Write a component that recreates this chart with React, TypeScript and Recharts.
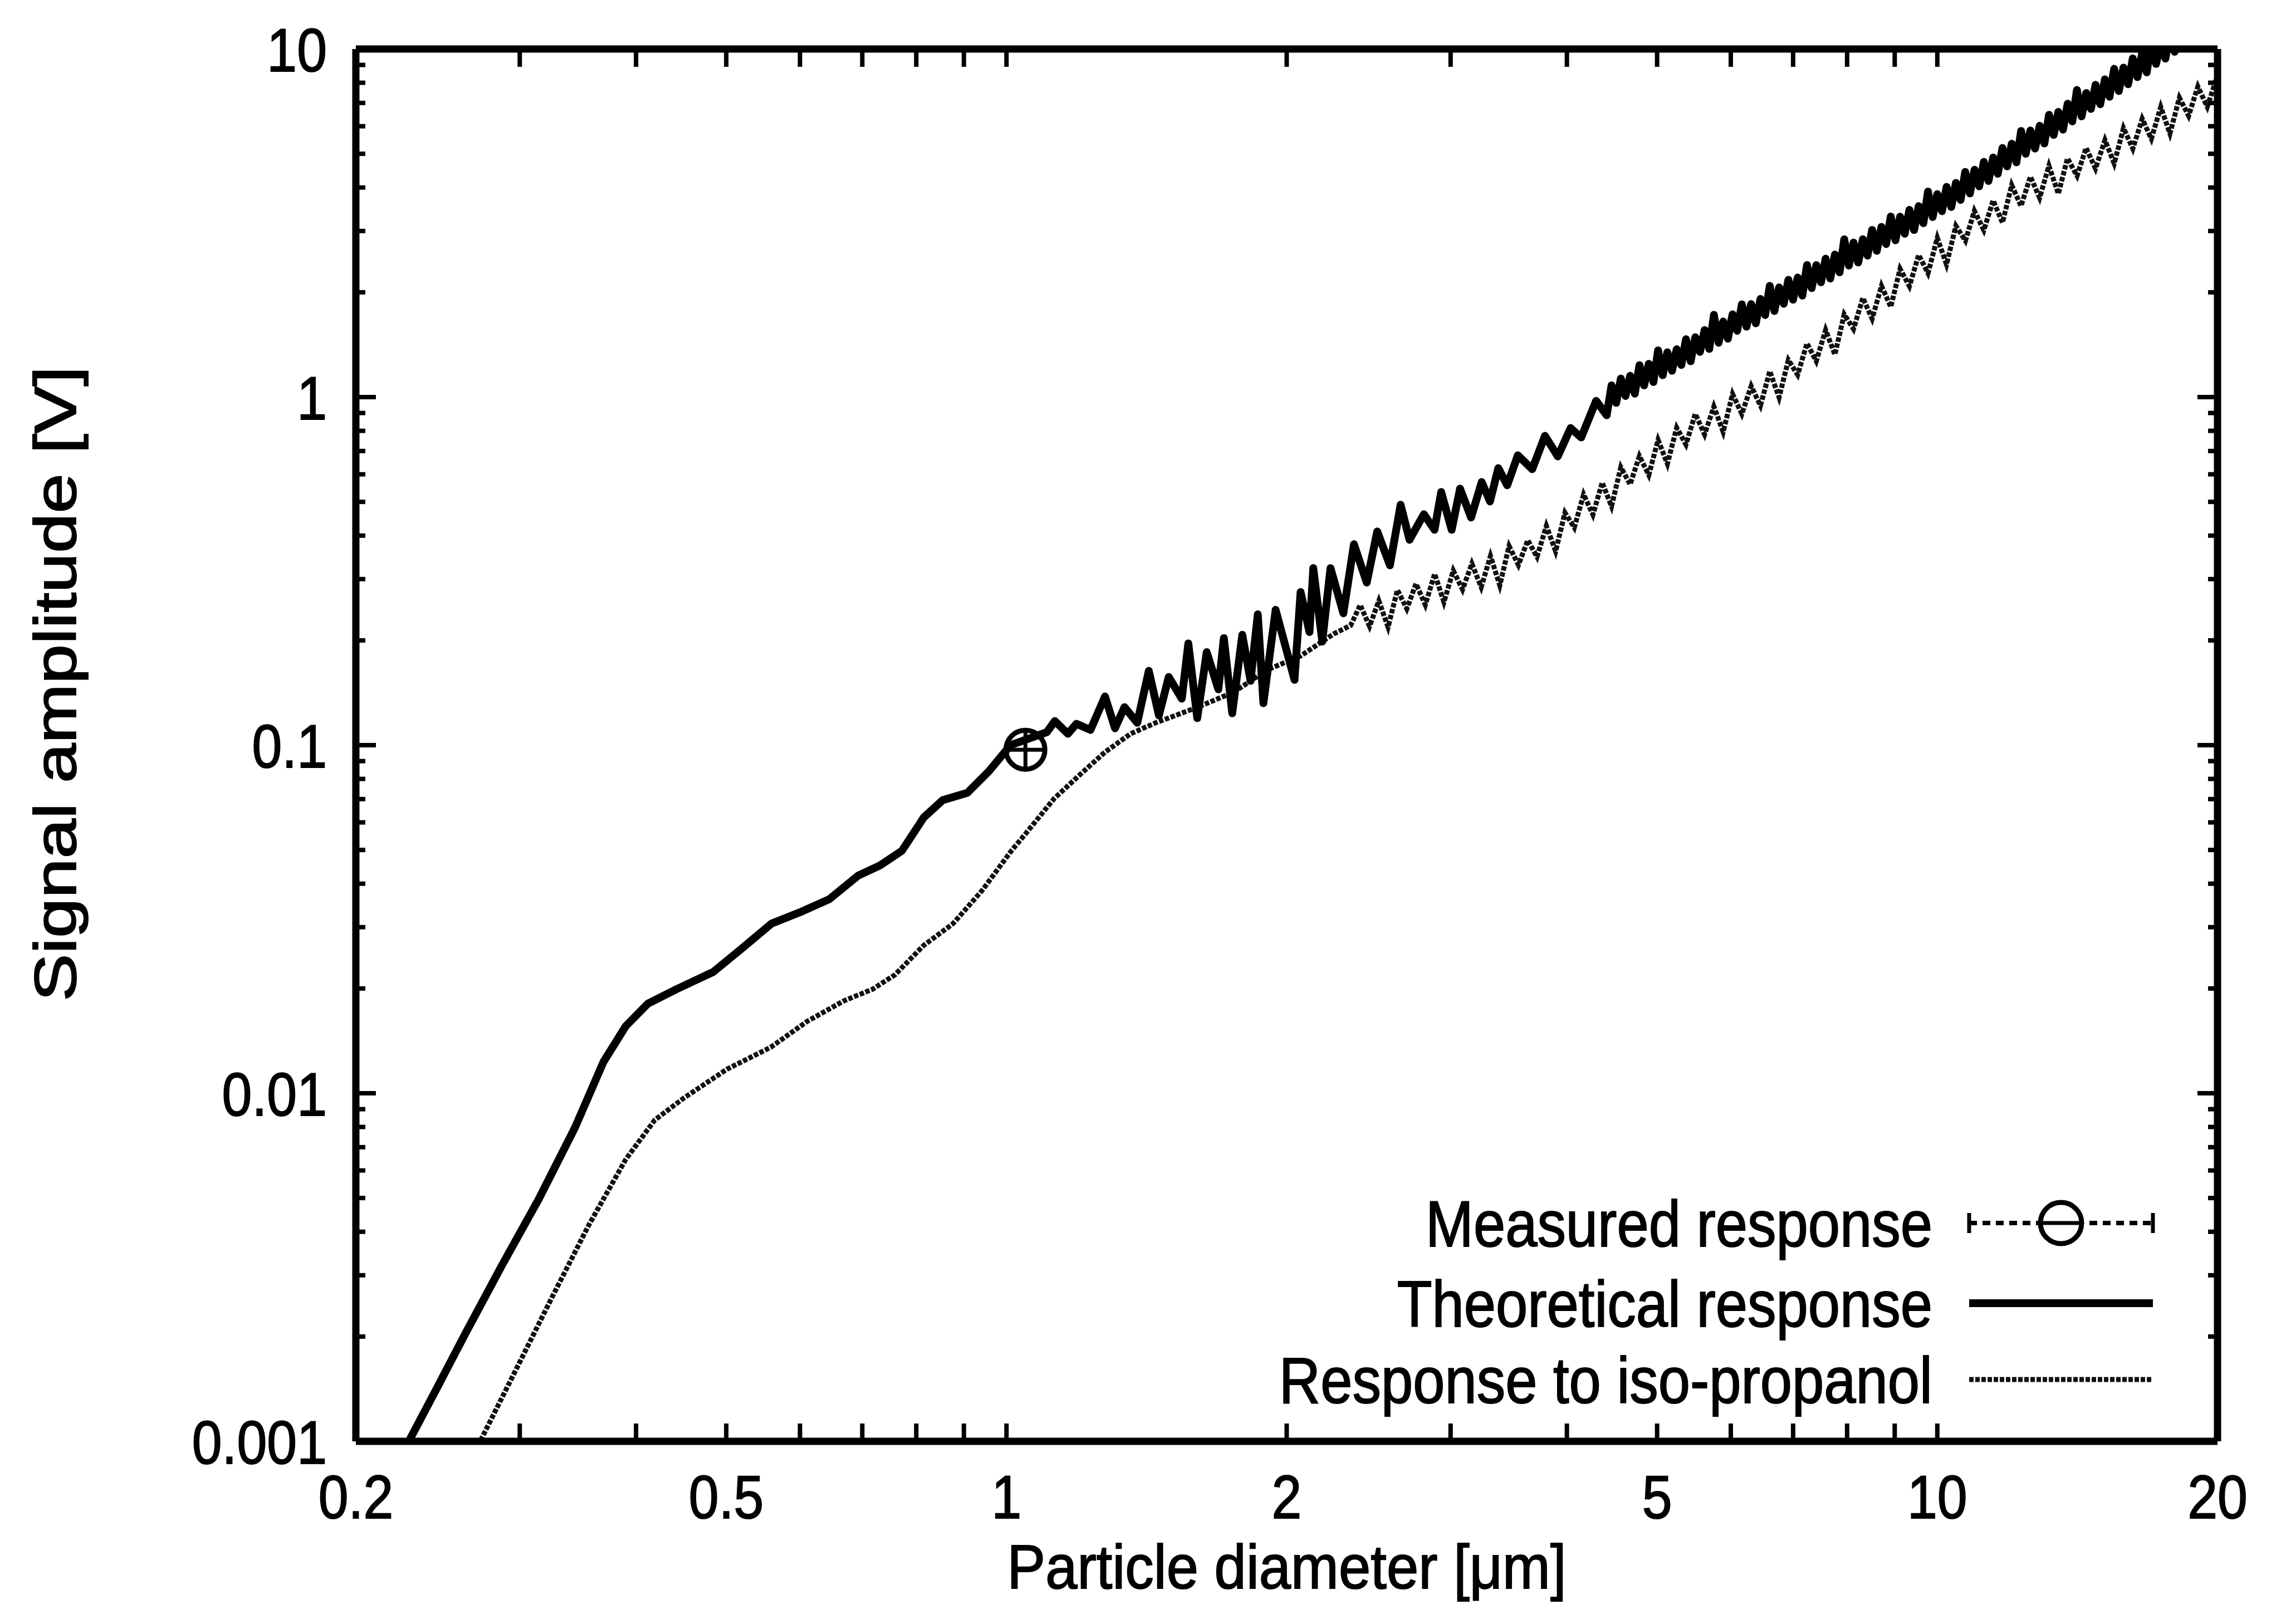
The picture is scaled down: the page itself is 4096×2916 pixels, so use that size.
import React from "react";
import { ComposedChart, Line, XAxis, YAxis } from "recharts";

// particle diameter [um] / signal amplitude [V]
const theoDiameter = [
  0.222, 0.228, 0.244, 0.262, 0.287, 0.314, 0.344, 0.369, 0.39, 0.412, 0.442, 0.484,
  0.52, 0.559, 0.6, 0.645, 0.693, 0.731, 0.772, 0.815, 0.854, 0.908, 0.958, 1.01,
  1.105, 1.127, 1.164, 1.189, 1.231, 1.276, 1.308, 1.339, 1.382, 1.422, 1.458, 1.494,
  1.543, 1.568, 1.603, 1.641, 1.689, 1.712, 1.748, 1.792, 1.829, 1.862, 1.888, 1.946,
  2.039, 2.07, 2.116, 2.136, 2.184, 2.229, 2.301, 2.362, 2.438, 2.502, 2.582, 2.651,
  2.71, 2.808, 2.883, 2.931, 3.008, 3.071, 3.156, 3.24, 3.307, 3.376, 3.451, 3.543,
  3.671, 3.789, 3.911, 4.037, 4.144, 4.3, 4.414,
  4.4668, 4.5186, 4.5709, 4.6238, 4.6774, 4.7315, 4.7863, 4.8417, 4.8978, 4.9545,
  5.0119, 5.0699, 5.1286, 5.188, 5.2481, 5.3088, 5.3703, 5.4325, 5.4954, 5.559,
  5.6234, 5.6885, 5.7544, 5.821, 5.8884, 5.9566, 6.0256, 6.0954, 6.166, 6.2373,
  6.3096, 6.3826, 6.4565, 6.5313, 6.6069, 6.6834, 6.7608, 6.8391, 6.9183, 6.9984,
  7.0795, 7.1614, 7.2444, 7.3282, 7.4131, 7.4989, 7.5858, 7.6736, 7.7625, 7.8524,
  7.9433, 8.0353, 8.1283, 8.2224, 8.3176, 8.414, 8.5114, 8.6099, 8.7096, 8.8105,
  8.9125, 9.0157, 9.1201, 9.2257, 9.3325, 9.4406, 9.5499, 9.6605, 9.7724, 9.8855,
  10.0, 10.116, 10.233, 10.351, 10.471, 10.593, 10.715, 10.839, 10.965, 11.092,
  11.22, 11.35, 11.482, 11.614, 11.749, 11.885, 12.023, 12.162, 12.303, 12.445,
  12.589, 12.735, 12.882, 13.032, 13.183, 13.335, 13.49, 13.646, 13.804, 13.964,
  14.125, 14.289, 14.454, 14.622, 14.791, 14.962, 15.136, 15.311, 15.488, 15.668,
  15.849, 16.032, 16.218, 16.406, 16.596, 16.788, 16.982, 17.179, 17.378, 17.579,
  17.783, 17.989, 18.197, 18.408, 18.621, 18.836, 19.055,
];
const theoAmplitude = [
  0.00087, 0.001, 0.00141, 0.00203, 0.0032, 0.00493, 0.00798, 0.0123, 0.0156, 0.0181, 0.0199, 0.0223,
  0.0261, 0.0307, 0.0331, 0.0361, 0.0422, 0.0451, 0.0497, 0.062, 0.0695, 0.073, 0.0843, 0.1,
  0.109, 0.1173, 0.1078, 0.1152, 0.1106, 0.138, 0.1118, 0.1286, 0.116, 0.1635, 0.1218, 0.157,
  0.136, 0.196, 0.1196, 0.185, 0.1447, 0.203, 0.1235, 0.2075, 0.153, 0.2377, 0.132, 0.2447,
  0.154, 0.2754, 0.2113, 0.3226, 0.1985, 0.3226, 0.2393, 0.3777, 0.2932, 0.4111, 0.3286, 0.4905,
  0.389, 0.4608, 0.4157, 0.5338, 0.4157, 0.5457, 0.4507, 0.5703, 0.5014, 0.6253, 0.5579, 0.6804,
  0.6207, 0.7738, 0.6755, 0.8148, 0.7653, 0.9755, 0.8867,
  1.0804, 0.9626, 1.1305, 1.0073, 1.1508, 1.0229, 1.2352, 1.0803, 1.2458, 1.1047,
  1.3618, 1.1559, 1.3453, 1.1904, 1.3725, 1.237, 1.4662, 1.2677, 1.4856, 1.3483,
  1.558, 1.3755, 1.723, 1.4327, 1.6482, 1.4718, 1.7286, 1.5508, 1.8471, 1.5931,
  1.8501, 1.629, 1.9138, 1.7207, 2.0869, 1.7677, 2.0663, 1.8541, 2.1722, 1.9048,
  2.206, 1.9567, 2.395, 2.0569, 2.3933, 2.1375, 2.4986, 2.1908, 2.5668, 2.2819,
  2.8391, 2.3876, 2.779, 2.4359, 2.8417, 2.55, 3.0214, 2.6306, 3.0826, 2.7527,
  3.3012, 2.8214, 3.2989, 2.9458, 3.4514, 3.0189, 3.5375, 3.159, 3.8948, 3.2909,
  3.8299, 3.42, 4.0169, 3.5164, 4.1245, 3.686, 4.4349, 3.8464, 4.4996, 4.0318,
  4.7395, 4.178, 4.8774, 4.3802, 5.1947, 4.6002, 5.3459, 4.7244, 5.8145, 4.9981,
  5.8341, 5.1781, 6.0178, 5.3534, 6.4694, 5.6639, 6.5965, 5.8692, 6.9627, 6.1948,
  7.6248, 6.4044, 7.4763, 6.7283, 7.8917, 6.9404, 8.1788, 7.2911, 8.7709, 7.5726,
  8.841, 7.921, 9.3973, 8.3044, 9.7157, 8.5637, 10.59, 9.0605, 10.529, 9.3883,
  11.113, 9.8194, 11.436, 10.198, 12.183, 10.739, 12.567,
];

const isoDiameter = [
  0.265, 0.272, 0.298, 0.326, 0.356, 0.39, 0.419, 0.45, 0.501, 0.558, 0.611, 0.668,
  0.718, 0.759, 0.815, 0.876, 0.942, 1.012, 1.048, 1.125, 1.206, 1.276, 1.359, 1.448,
  1.519, 1.616, 1.755, 1.906, 2.07, 2.248, 2.343,
  2.399, 2.455, 2.512, 2.57, 2.63, 2.692, 2.754, 2.818, 2.884, 2.951,
  3.02, 3.09, 3.162, 3.236, 3.311, 3.388, 3.467, 3.548, 3.631, 3.715,
  3.802, 3.89, 3.981, 4.074, 4.169, 4.266, 4.365, 4.467, 4.571, 4.677,
  4.786, 4.898, 5.012, 5.129, 5.248, 5.37, 5.495, 5.623, 5.754, 5.888,
  6.026, 6.166, 6.31, 6.457, 6.607, 6.761, 6.918, 7.079, 7.244, 7.413,
  7.586, 7.762, 7.943, 8.128, 8.318, 8.511, 8.71, 8.913, 9.12, 9.333,
  9.55, 9.772, 10.0, 10.23, 10.47, 10.72, 10.96, 11.22, 11.48, 11.75,
  12.02, 12.3, 12.59, 12.88, 13.18, 13.49, 13.8, 14.13, 14.45, 14.79,
  15.14, 15.49, 15.85, 16.22, 16.6, 16.98, 17.38, 17.78, 18.2, 18.62,
  19.05, 19.5, 19.95, 20.42,
];
const isoAmplitude = [
  0.00087, 0.001, 0.00163, 0.00264, 0.00419, 0.00646, 0.00838, 0.00968, 0.01173, 0.01355, 0.0161, 0.0184,
  0.0199, 0.0219, 0.0266, 0.0307, 0.0383, 0.0497, 0.0556, 0.0702, 0.0834, 0.0955, 0.1078, 0.1161,
  0.1217, 0.1296, 0.1421, 0.1646, 0.1805, 0.209, 0.2208,
  0.2529, 0.2195, 0.26, 0.2183, 0.2792, 0.2465, 0.291, 0.2529, 0.3108, 0.2576,
  0.3174, 0.2799, 0.3323, 0.2844, 0.3496, 0.2877, 0.3733, 0.3292, 0.3881, 0.3475,
  0.4266, 0.3606, 0.4656, 0.4217, 0.5254, 0.4592, 0.5682, 0.4853, 0.6289, 0.561,
  0.6769, 0.597, 0.7533, 0.6427, 0.8166, 0.7303, 0.8954, 0.7808, 0.9396, 0.7943,
  1.0209, 0.8943, 1.0752, 0.9452, 1.1872, 0.9977, 1.2779, 1.1587, 1.4274, 1.2677,
  1.5596, 1.3243, 1.7299, 1.5685, 1.9275, 1.6789, 2.0868, 1.8155, 2.3363, 2.082,
  2.5616, 2.2699, 2.8675, 2.4044, 3.1046, 2.8119, 3.4279, 3.0165, 3.6727, 3.1696,
  4.0644, 3.5399, 4.3004, 3.737, 4.6188, 3.8371, 4.8529, 4.3203, 5.2002, 4.5343,
  5.4764, 4.6881, 5.9292, 5.17, 6.3025, 5.5209, 6.816, 5.7148, 7.2445, 6.4265,
  7.7987, 6.8233, 8.2318, 7.1783,
];

const measuredDiameter = [1.048];
const measuredAmplitude = [0.097];

const xTickLabels = [0.2, 0.5, 1, 2, 5, 10, 20];
const xTickMarks = [0.3, 0.4, 0.5, 0.6, 0.7, 0.8, 0.9, 1, 2, 3, 4, 5, 6, 7, 8, 9, 10];
const yTickLabels = [0.001, 0.01, 0.1, 1, 10];
const yMinorTicks = [
  0.002, 0.003, 0.004, 0.005, 0.006, 0.007, 0.008, 0.009,
  0.02, 0.03, 0.04, 0.05, 0.06, 0.07, 0.08, 0.09,
  0.2, 0.3, 0.4, 0.5, 0.6, 0.7, 0.8, 0.9,
  2, 3, 4, 5, 6, 7, 8, 9,
];

const legendLabels = ["Measured response", "Theoretical response", "Response to iso-propanol"];

const X_DOMAIN: [number, number] = [0.2, 20];
const Y_DOMAIN: [number, number] = [0.001, 10];

const zip = (d: number[], v: number[]) => d.map((x, i) => ({ d: x, v: v[i] }));
const theoData = zip(theoDiameter, theoAmplitude);
const isoData = zip(isoDiameter, isoAmplitude);
const measuredData = zip(measuredDiameter, measuredAmplitude);

// layout
const W = 4096;
const H = 2916;
const PLOT_LEFT = 639;
const PLOT_RIGHT = 3982;
const PLOT_TOP = 88;
const PLOT_BOTTOM = 2588;
const YAXIS_W = 300;
const XAXIS_H = 200;

const FONT = "'Liberation Sans', Arial, Helvetica, sans-serif";
const FS = 117;
const TICK_FS = 110;
const SQX = 0.88; // the scan's lettering is tall and narrow
const INK = { fill: "#000", stroke: "#000", strokeWidth: 2 };
const FRAME = { stroke: "#000", strokeWidth: 13 };
const TICK = { stroke: "#000", strokeWidth: 8 };
const X_TICK_LEN = 32;

// same log mapping the x axis uses (domain 0.2..20 over the plot width)
const xPix = (v: number) =>
  PLOT_LEFT +
  ((PLOT_RIGHT - PLOT_LEFT) * Math.log10(v / X_DOMAIN[0])) / Math.log10(X_DOMAIN[1] / X_DOMAIN[0]);

const XLabel = (props: any) => {
  const { x, payload } = props;
  return (
    <g transform={`translate(${x},${PLOT_BOTTOM + 138}) scale(${SQX},1)`}>
      <text x={0} y={0} textAnchor="middle" fontFamily={FONT} fontSize={TICK_FS} {...INK}>
        {String(payload.value)}
      </text>
    </g>
  );
};

const YLabel = (props: any) => {
  const { y, payload } = props;
  return (
    <g transform={`translate(${PLOT_LEFT - 52},${y + 40}) scale(${SQX},1)`}>
      <text x={0} y={0} textAnchor="end" fontFamily={FONT} fontSize={TICK_FS} {...INK}>
        {String(payload.value)}
      </text>
    </g>
  );
};

// tick-mark-only axes: draw the tick line, no label
const NoLabel = () => <g />;

const MeasuredDot = (props: any) => {
  const { cx, cy } = props;
  if (cx == null || cy == null) return null;
  return (
    <g>
      <circle cx={cx} cy={cy} r={35} fill="none" stroke="#000" strokeWidth={9} />
      <line x1={cx - 35} x2={cx + 35} y1={cy} y2={cy} stroke="#000" strokeWidth={7} />
      <line x1={cx} x2={cx} y1={cy - 35} y2={cy + 35} stroke="#000" strokeWidth={7} />
    </g>
  );
};

const LEGEND_TEXT_RIGHT = 3470;
const LEGEND_ROWS = [2196, 2340, 2477];
const SAMPLE_X1 = 3536;
const SAMPLE_X2 = 3866;

function Overlay() {
  const mid = (SAMPLE_X1 + SAMPLE_X2) / 2;
  return (
    <svg
      width={W}
      height={H}
      style={{ position: "absolute", left: 0, top: 0, pointerEvents: "none" }}
    >
      {/* inward x tick marks, bottom and top */}
      {xTickMarks.map((t) => {
        const x = xPix(t);
        return (
          <g key={`xt-${t}`}>
            <line x1={x} x2={x} y1={PLOT_BOTTOM} y2={PLOT_BOTTOM - X_TICK_LEN} {...TICK} />
            <line x1={x} x2={x} y1={PLOT_TOP} y2={PLOT_TOP + X_TICK_LEN} {...TICK} />
          </g>
        );
      })}

      <g transform={`translate(${(PLOT_LEFT + PLOT_RIGHT) / 2},2852) scale(0.92,1)`}>
        <text textAnchor="middle" fontFamily={FONT} fontSize={112} {...INK}>
          Particle diameter [μm]
        </text>
      </g>
      <text
        transform="translate(136,1228) rotate(-90)"
        textAnchor="middle"
        fontFamily={FONT}
        fontSize={105}
        textLength={1140}
        lengthAdjust="spacingAndGlyphs"
        {...INK}
      >
        Signal amplitude [V]
      </text>

      {legendLabels.map((label, i) => (
        <g key={label} transform={`translate(${LEGEND_TEXT_RIGHT},${LEGEND_ROWS[i] + 42}) scale(${SQX},1)`}>
          <text textAnchor="end" fontFamily={FONT} fontSize={FS} {...INK}>
            {label}
          </text>
        </g>
      ))}

      {/* measured: dashed with error-bar ends and open circle */}
      <line x1={SAMPLE_X1} x2={SAMPLE_X2} y1={LEGEND_ROWS[0]} y2={LEGEND_ROWS[0]} stroke="#000" strokeWidth={8} strokeDasharray="14 10" />
      <line x1={SAMPLE_X1} x2={SAMPLE_X1} y1={LEGEND_ROWS[0] - 18} y2={LEGEND_ROWS[0] + 18} stroke="#000" strokeWidth={7} />
      <line x1={SAMPLE_X2} x2={SAMPLE_X2} y1={LEGEND_ROWS[0] - 18} y2={LEGEND_ROWS[0] + 18} stroke="#000" strokeWidth={7} />
      <circle cx={mid} cy={LEGEND_ROWS[0]} r={37} fill="#fff" stroke="#000" strokeWidth={9} />
      <line x1={mid - 37} x2={mid + 37} y1={LEGEND_ROWS[0]} y2={LEGEND_ROWS[0]} stroke="#000" strokeWidth={7} />

      <line x1={SAMPLE_X1} x2={SAMPLE_X2} y1={LEGEND_ROWS[1]} y2={LEGEND_ROWS[1]} stroke="#000" strokeWidth={14} />
      <line x1={SAMPLE_X1} x2={SAMPLE_X2} y1={LEGEND_ROWS[2]} y2={LEGEND_ROWS[2]} stroke="#111" strokeWidth={9} strokeDasharray="8 3" />
    </svg>
  );
}

export default function App() {
  const common = {
    type: "number" as const,
    scale: "log" as const,
    allowDataOverflow: true,
    interval: 0 as const,
  };
  return (
    <div style={{ position: "relative", width: W, height: H }}>
      <style>{"body{margin:0}"}</style>
      <ComposedChart
        width={W}
        height={H}
        margin={{
          top: PLOT_TOP,
          right: W - PLOT_RIGHT,
          bottom: H - PLOT_BOTTOM - XAXIS_H,
          left: PLOT_LEFT - YAXIS_W,
        }}
      >
        <XAxis
          {...common}
          xAxisId="b"
          dataKey="d"
          domain={X_DOMAIN}
          ticks={xTickLabels}
          height={XAXIS_H}
          axisLine={FRAME}
          tickLine={false}
          tick={<XLabel />}
        />
        {/* top frame side */}
        <XAxis {...common} xAxisId="tt" orientation="top" dataKey="d" domain={X_DOMAIN} ticks={xTickLabels} height={1} mirror axisLine={FRAME} tickLine={false} tick={<NoLabel />} />

        <YAxis
          {...common}
          yAxisId="l"
          dataKey="v"
          domain={Y_DOMAIN}
          ticks={yTickLabels}
          width={YAXIS_W}
          axisLine={FRAME}
          tickLine={false}
          tick={<YLabel />}
        />
        {/* inward y tick marks on both sides */}
        <YAxis {...common} yAxisId="lmaj" dataKey="v" domain={Y_DOMAIN} ticks={yTickLabels} width={1} mirror axisLine={false} tickLine={TICK} tickSize={36} tick={<NoLabel />} />
        <YAxis {...common} yAxisId="lmin" dataKey="v" domain={Y_DOMAIN} ticks={yMinorTicks} width={1} mirror axisLine={false} tickLine={TICK} tickSize={16} tick={<NoLabel />} />
        <YAxis {...common} yAxisId="rmaj" orientation="right" dataKey="v" domain={Y_DOMAIN} ticks={yTickLabels} width={1} mirror axisLine={FRAME} tickLine={TICK} tickSize={36} tick={<NoLabel />} />
        <YAxis {...common} yAxisId="rmin" orientation="right" dataKey="v" domain={Y_DOMAIN} ticks={yMinorTicks} width={1} mirror axisLine={false} tickLine={TICK} tickSize={16} tick={<NoLabel />} />

        <Line
          xAxisId="b"
          yAxisId="l"
          data={isoData}
          dataKey="v"
          stroke="#111"
          strokeWidth={9}
          strokeDasharray="8 3"
          dot={false}
          isAnimationActive={false}
        />
        <Line
          xAxisId="b"
          yAxisId="l"
          data={theoData}
          dataKey="v"
          stroke="#000"
          strokeWidth={14}
          strokeLinejoin="round"
          dot={false}
          isAnimationActive={false}
        />
        <Line
          xAxisId="b"
          yAxisId="l"
          data={measuredData}
          dataKey="v"
          stroke="none"
          dot={<MeasuredDot />}
          isAnimationActive={false}
        />
      </ComposedChart>
      <Overlay />
    </div>
  );
}
